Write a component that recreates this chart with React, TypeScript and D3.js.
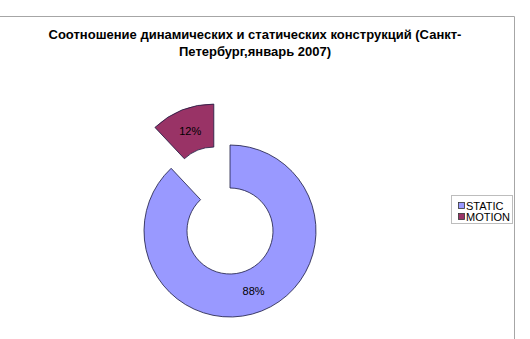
import React from "react";
import * as d3 from "d3";

const categories = ["STATIC", "MOTION"];
const values = [88, 12];
const colors = ["#9999FF", "#993366"];
const titleLines = [
  "Соотношение динамических и статических конструкций (Санкт-",
  "Петербург,январь 2007)",
];

export default function App() {
  const W = 530, H = 339;
  const cx = 230, cy = 231, R = 86, r = 43, explode = 44;
  const pie = d3.pie<number>().sort(null).startAngle(0).endAngle(2 * Math.PI);
  const arcs = pie(values);
  const arc = d3.arc<d3.PieArcDatum<number>>().innerRadius(r).outerRadius(R);
  const labelArc = d3.arc<d3.PieArcDatum<number>>().innerRadius(64).outerRadius(64);
  const font = "'Liberation Sans', Arial, sans-serif";
  return (
    <svg width={W} height={H} style={{ position: "fixed", left: 0, top: 0, background: "#fff" }}>
      <rect x={0} y={0} width={W} height={H} fill="#fff" />
      <path d={`M0,16.5 H514.5 V${H}`} fill="none" stroke="#a6a6a6" strokeWidth={1} />
      {titleLines.map((t, i) => (
        <text key={i} x={255} y={38.5 + i * 17} textAnchor="middle" fontFamily={font}
          fontWeight="bold" fontSize={13} fill="#000">{t}</text>
      ))}
      {arcs.map((a, i) => {
        const mid = (a.startAngle + a.endAngle) / 2;
        const off = i === 1 ? explode : 0;
        const dx = Math.sin(mid) * off, dy = -Math.cos(mid) * off;
        const c = labelArc.centroid(a);
        return (
          <g key={i} transform={`translate(${cx + dx},${cy + dy})`}>
            <path d={arc(a) || ""} fill={colors[i]} stroke="#1a1a40" strokeWidth={0.8} />
            <text x={c[0]} y={c[1] + 4} textAnchor="middle" fontFamily={font}
              fontSize={11} fill="#000">{values[i]}%</text>
          </g>
        );
      })}
      <g>
        <rect x={451.5} y={195.5} width={61} height={28} fill="#fff" stroke="#bdbdbd" />
        {categories.map((c, i) => (
          <g key={c}>
            <rect x={458.5} y={202.5 + i * 11} width={6} height={6} fill={colors[i]} stroke="#333" strokeWidth={0.8} />
            <text x={466} y={209.5 + i * 11} fontFamily={font} fontSize={11} fill="#000">{c}</text>
          </g>
        ))}
      </g>
    </svg>
  );
}
